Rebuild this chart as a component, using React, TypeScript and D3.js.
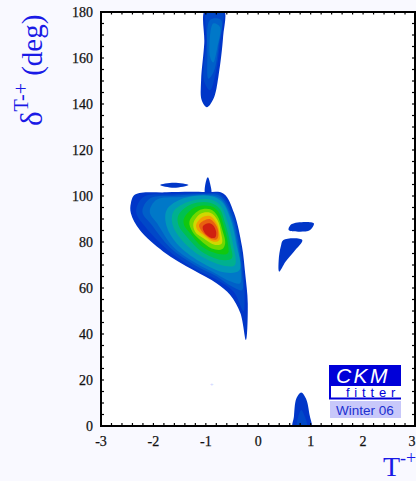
import React from "react";
import * as d3 from "d3";

type P = [number, number];
const xTickLabels = [-3, -2, -1, 0, 1, 2, 3];
const yTickLabels = [0, 20, 40, 60, 80, 100, 120, 140, 160, 180];
const xMinorTicks = d3.range(-30, 31, 2).map((v) => v / 10);
const yMinorTicks = d3.range(0, 181, 5);

const mainLevels: P[][] = [
  [[-2.35,100.6],[-1.75,101.6],[-1.01,101.7],[-0.66,101],[-0.46,92.5],[-0.31,78],[-0.25,66.4],[-0.2,53.3],[-0.235,37.4],[-0.34,49],[-0.535,57],[-0.79,62],[-1.24,67.8],[-1.81,75.8],[-2.26,85.2],[-2.43,92.5],[-2.43,96.8]],
  [[-2.19,99.6],[-1.62,100.8],[-0.98,101.2],[-0.72,100.8],[-0.48,92.2],[-0.34,78.5],[-0.28,66.5],[-0.26,56],[-0.28,50],[-0.47,58.4],[-0.79,63.6],[-1.24,68.8],[-1.75,77],[-2.16,86.7],[-2.33,93.2]],
  [[-2.06,99],[-1.55,100.2],[-0.98,100.8],[-0.73,100],[-0.5,91.2],[-0.37,78.5],[-0.31,66.5],[-0.31,59],[-0.5,60.6],[-0.79,65],[-1.2,69.8],[-1.68,77.5],[-2.03,87.4],[-2.21,93.2]],
  [[-1.94,98.4],[-1.49,99.6],[-0.98,100.4],[-0.72,98.8],[-0.52,90.6],[-0.4,79],[-0.33,67],[-0.35,62],[-0.55,63],[-0.79,66],[-1.17,70.5],[-1.62,77.8],[-1.93,88.1],[-2.07,93.2]],
  [[-1.747,93.9],[-1.428,99],[-0.918,100],[-0.695,97.5],[-0.536,90.3],[-0.421,79.4],[-0.357,67.8],[-0.631,66.7],[-1.109,71.4],[-1.555,79.4],[-1.747,86.7]],
  [[-1.619,93.2],[-1.332,97.5],[-0.918,98.5],[-0.727,96.1],[-0.599,89.6],[-0.485,79.4],[-0.446,70],[-0.631,69.6],[-1.077,73.6],[-1.46,80.9],[-1.632,87.4]],
  [[-1.523,91.7],[-1.269,96.5],[-0.918,97.1],[-0.74,94.6],[-0.631,88.1],[-0.536,79.4],[-0.504,72.9],[-0.695,72.2],[-1.077,75.8],[-1.364,82.3],[-1.523,87.4]],
  [[-1.415,90.3],[-1.205,95.1],[-0.918,95.6],[-0.759,93.2],[-0.663,87.4],[-0.58,79.4],[-0.58,75.1],[-0.759,74.8],[-1.077,78],[-1.3,83.8],[-1.415,87.4]],
  [[-1.313,88.8],[-1.141,93.6],[-0.918,94.2],[-0.778,91.3],[-0.695,85.9],[-0.631,79.4],[-0.695,76.8],[-0.886,77.2],[-1.109,80.9],[-1.256,84.5]],
  [[-1.237,88.1],[-1.109,92.2],[-0.918,92.7],[-0.778,89.6],[-0.714,84.5],[-0.695,79.4],[-0.822,78.7],[-1.046,81.6],[-1.205,84.5]],
  [[-1.186,87.4],[-1.077,90.7],[-0.918,91.3],[-0.791,88.1],[-0.74,83.8],[-0.74,80.9],[-0.854,80.1],[-1.046,83],[-1.16,85.2]],
  [[-1.128,87.4],[-1.014,89.6],[-0.905,89.8],[-0.791,86.7],[-0.759,83],[-0.791,81.2],[-0.886,81.2],[-1.046,83.8]],
  [[-1.058,86.7],[-0.95,88.1],[-0.867,87.4],[-0.803,84.5],[-0.822,82],[-0.918,82],[-1.026,84.1]],
];
const mainColors = ["#0036c8","#0048c8","#0060c8","#0078c8","#0098b8","#00b090","#00c050","#10c810","#70d800","#d0d800","#f0a000","#e86010","#d02010"];

const topBlob: P[][] = [
  [[-1.01,181],[-0.66,181],[-0.67,169.3],[-0.76,151.9],[-0.85,142.5],[-0.98,138.6],[-1.08,141.7],[-1.09,150.4],[-1.03,166.4]],
  [[-0.97,181],[-0.69,181],[-0.73,166.4],[-0.82,152.6],[-0.92,146],[-1.04,150.4],[-0.99,166.4]],
  [[-0.92,176.5],[-0.71,176.5],[-0.76,164.9],[-0.85,154],[-0.95,151],[-0.97,160.6]],
  [[-0.86,175],[-0.73,173.5],[-0.78,164.8],[-0.86,158],[-0.92,160.6]],
];
const bottomBlob: P[][] = [
  [[0.82,14.6],[0.727,12],[0.68,4],[0.66,-1],[1.01,-1],[0.98,4.8],[0.91,12]],
  [[0.82,7],[0.74,-1],[0.93,-1],[0.89,4]],
];
const islandUpperRight: P[] = [[0.64,87.8],[1.06,88.1],[0.99,85.2],[0.8,84.5],[0.58,85.2]];
const islandLowerRight: P[] = [[0.48,80.9],[0.84,80.9],[0.68,75.8],[0.52,71.4],[0.4,67.1],[0.39,72.2],[0.43,78]];
const islandEllipse: P[] = [[-1.874,104.8],[-1.61,105.8],[-1.33,104.8],[-1.61,103.6]];
const islandSpike: P[] = [[-1.01,101],[-0.99,107],[-0.96,108.1],[-0.92,105.5],[-0.9,101]];
const strayPoint: P = [-0.885, 18.1];
const blobColors = ["#0036c8", "#0048c8", "#0060c8", "#0078c8"];

const W = 416, H = 481;
const plot = { left: 101, right: 415, top: 12, bottom: 426 };
const x = d3.scaleLinear().domain([-3, 3]).range([plot.left, plot.right + 0.5]);
const y = d3.scaleLinear().domain([0, 180]).range([plot.bottom, plot.top]);
const line = d3.line<P>().x((d) => x(d[0])).y((d) => y(d[1])).curve(d3.curveCatmullRomClosed.alpha(0.5));
const serif = "'Liberation Serif', serif";
const sans = "'Liberation Sans', sans-serif";
const BLUE = "#1a1ae6";

export default function App() {
  return (
    <svg width={W} height={H} style={{ position: "fixed", left: 0, top: 0, display: "block" }}>
      <defs>
        <clipPath id="plot-clip"><rect x={plot.left} y={plot.top} width={plot.right - plot.left} height={plot.bottom - plot.top} /></clipPath>
      </defs>
      <rect width={W} height={H} fill="#f9f9ff" />
      <rect x={plot.left} y={plot.top} width={plot.right - plot.left} height={plot.bottom - plot.top} fill="#fff" />
      <g clipPath="url(#plot-clip)">
        {[islandEllipse, islandSpike, islandUpperRight, islandLowerRight].map((p, i) => (
          <path key={i} d={line(p) ?? ""} fill={blobColors[0]} />
        ))}
        {mainLevels.map((p, i) => <path key={i} d={line(p) ?? ""} fill={mainColors[i]} />)}
        {topBlob.map((p, i) => <path key={i} d={line(p) ?? ""} fill={blobColors[i]} />)}
        {bottomBlob.map((p, i) => <path key={i} d={line(p) ?? ""} fill={blobColors[i]} />)}
        <text x={x(strayPoint[0])} y={y(strayPoint[1]) + 2} fontSize={6} textAnchor="middle" fill="#c8d0ff" fontFamily={sans}>+</text>
      </g>
      {xMinorTicks.map((t) => (
        <g key={t} stroke="#000" strokeWidth={1.2}>
          <line x1={x(t)} x2={x(t)} y1={plot.bottom} y2={plot.bottom - 3} />
          <line x1={x(t)} x2={x(t)} y1={plot.top} y2={plot.top + 2.5} />
        </g>
      ))}
      {yMinorTicks.map((t) => (
        <g key={t} stroke="#000" strokeWidth={1.2}>
          <line x1={plot.left} x2={plot.left + 3} y1={y(t)} y2={y(t)} />
          <line x1={plot.right} x2={plot.right - 3} y1={y(t)} y2={y(t)} />
        </g>
      ))}
      <rect x={plot.left} y={plot.top} width={plot.right - plot.left} height={plot.bottom - plot.top} fill="none" stroke="#000" strokeWidth={2} />
      {xTickLabels.map((t) => (
        <text key={t} x={t === 3 ? 412 : x(t)} y={446} textAnchor="middle" fontFamily={serif} fontSize={14} fill="#111" stroke="#111" strokeWidth={0.25}>{t}</text>
      ))}
      {yTickLabels.map((t) => (
        <text key={t} x={93} y={y(t) + 4.5} textAnchor="end" fontFamily={serif} fontSize={14} fill="#111" stroke="#111" strokeWidth={0.25}>{t}</text>
      ))}
      <text transform="translate(42,126) rotate(-90)" fontFamily={serif} fontSize={31} fill={BLUE}>
        <tspan>δ</tspan>
        <tspan fontSize={20} dy={-14}>T-+</tspan>
        <tspan dy={14} fontSize={29}> (deg)</tspan>
      </text>
      <text x={383} y={476} fontFamily={serif} fontSize={28} fill={BLUE}>
        <tspan>T</tspan>
        <tspan fontSize={18} dy={-12}>-+</tspan>
      </text>
      <rect x={329} y={365} width={72} height={34.5} fill="#0000d8" />
      <rect x={331} y={386} width={70} height={11.5} fill="#fff" />
      <text x={363} y={383} textAnchor="middle" fontFamily={sans} fontStyle="italic" fontSize={21} letterSpacing={2.5} fill="#fff">CKM</text>
      <text x={373} y={396.5} textAnchor="middle" fontFamily={sans} fontSize={13} letterSpacing={4.8} fill="#0000d8">fitter</text>
      <rect x={330} y={401} width={71} height={17} fill="#c8c8fa" />
      <text x={365} y={414.5} textAnchor="middle" fontFamily={sans} fontSize={13.5} fill="#2030d0">Winter 06</text>
    </svg>
  );
}
